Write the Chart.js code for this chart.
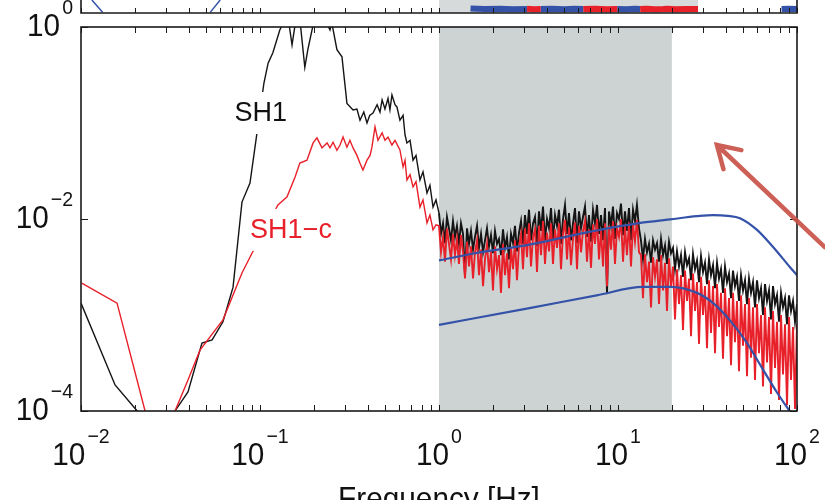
<!DOCTYPE html>
<html>
<head>
<meta charset="utf-8">
<script src="https://cdn.jsdelivr.net/npm/chart.js@4.4.0/dist/chart.umd.min.js"></script>
<style>
    html, body { margin: 0; padding: 0; background: #fff; }
    #wrap { position: relative; width: 825px; height: 500px; overflow: hidden; }
    #grafico { position: absolute; left: 0; top: 0; }
    #faixaTopo { position: absolute; left: 0; top: 0; }
</style>
</head>
<body>
<div id="wrap">
    <canvas id="grafico" width="825" height="500"></canvas>
    <canvas id="faixaTopo" width="825" height="14"></canvas>
</div>
<script>
// ---- data ----
// SH1 (black), low frequency part
const sh1LowFreq = [0.01, 0.0155, 0.0206, 0.027, 0.0335, 0.0396, 0.0474, 0.054, 0.0621, 0.0707,
    0.0793, 0.0879, 0.0962, 0.1052, 0.111, 0.118, 0.129, 0.138, 0.145, 0.151,
    0.157, 0.167, 0.178, 0.185, 0.198, 0.211, 0.231, 0.246, 0.252, 0.269,
    0.287, 0.299, 0.306, 0.331, 0.348, 0.362, 0.38, 0.396, 0.41, 0.428,
    0.451, 0.468, 0.481, 0.499, 0.519, 0.532, 0.546, 0.568, 0.582, 0.605,
    0.63, 0.646, 0.662, 0.689, 0.716, 0.744, 0.783, 0.814, 0.857, 0.89,
    0.926, 0.962];
const sh1LowPsd = [1.33e-3, 1.87e-4, 1.0e-4, 5e-5, 1.0e-4, 1.58e-4, 5.1e-4, 5.5e-4, 8.5e-4, 1.95e-3,
    1.5e-2, 2.37e-2, 7.9e-2, 0.261, 0.42, 0.54, 0.93, 1.2, 1.1, 0.65,
    1.05, 1.2, 0.38, 0.58, 1.05, 1.3, 1.2, 0.93, 1.1, 0.58,
    0.49, 0.24, 0.16, 0.137, 0.14, 0.107, 0.13, 0.1, 0.12, 0.127,
    0.155, 0.13, 0.174, 0.14, 0.18, 0.137, 0.196, 0.155, 0.147, 0.107,
    0.12, 0.075, 0.062, 0.066, 0.041, 0.046, 0.0255, 0.031, 0.0187, 0.0225,
    0.0133, 0.0158];

// SH1-c (red), low frequency part
const sh1cLowFreq = [0.0101, 0.0159, 0.0228, 0.028, 0.0335, 0.0396, 0.0462, 0.0621, 0.0793, 0.0902,
    0.126, 0.1416, 0.157, 0.167, 0.183, 0.198, 0.208, 0.222, 0.237, 0.246,
    0.256, 0.269, 0.28, 0.291, 0.306, 0.318, 0.331, 0.348, 0.362, 0.376,
    0.396, 0.412, 0.422, 0.439, 0.456, 0.481, 0.499, 0.519, 0.546, 0.568,
    0.605, 0.63, 0.646, 0.662, 0.689, 0.716, 0.744, 0.783, 0.814, 0.857,
    0.89, 0.926, 0.962];
const sh1cLowPsd = [2.15e-3, 1.33e-3, 1.0e-4, 5e-5, 1.0e-4, 2.1e-4, 4.3e-4, 8.9e-4, 2.74e-3, 4.4e-3,
    1.4e-2, 1.7e-2, 2.74e-2, 3.83e-2, 4.1e-2, 6.2e-2, 7.0e-2, 5.5e-2, 6.2e-2, 5.5e-2,
    6.3e-2, 5.2e-2, 5.9e-2, 7.15e-2, 5.6e-2, 6.6e-2, 5.5e-2, 4.6e-2, 3.8e-2, 3.24e-2,
    4.1e-2, 4.6e-2, 5.6e-2, 9.1e-2, 6.6e-2, 7.9e-2, 6.6e-2, 7.1e-2, 5.9e-2, 6.6e-2,
    5.24e-2, 3.48e-2, 4.1e-2, 2.55e-2, 2.9e-2, 2.16e-2, 2.45e-2, 1.33e-2, 1.58e-2, 9.1e-3,
    1.1e-2, 7.7e-3, 8.7e-3];

// dense part 1 - 100 Hz (same frequencies for both traces)
const denseFreq = [1.000, 1.026, 1.053, 1.080, 1.108, 1.137, 1.167, 1.197, 1.228, 1.260,
    1.293, 1.327, 1.362, 1.397, 1.434, 1.471, 1.509, 1.549, 1.589, 1.631,
    1.673, 1.717, 1.762, 1.807, 1.854, 1.903, 1.952, 2.003, 2.055, 2.109,
    2.164, 2.220, 2.278, 2.337, 2.398, 2.461, 2.525, 2.591, 2.658, 2.727,
    2.799, 2.872, 2.946, 3.023, 3.102, 3.183, 3.266, 3.351, 3.438, 3.528,
    3.620, 3.714, 3.811, 3.910, 4.012, 4.117, 4.224, 4.334, 4.447, 4.563,
    4.681, 4.803, 4.929, 5.057, 5.189, 5.324, 5.463, 5.605, 5.751, 5.902,
    6.055, 6.213, 6.375, 6.541, 6.711, 6.886, 7.066, 7.250, 7.439, 7.633,
    7.832, 8.036, 8.245, 8.460, 8.681, 8.907, 9.139, 9.377, 9.622, 9.872,
    10.13, 10.39, 10.67, 10.94, 11.22, 11.52, 11.82, 12.13, 12.44, 12.76,
    13.10, 13.44, 13.79, 14.15, 14.52, 14.90, 15.29, 15.69, 16.10, 16.52,
    16.95, 17.39, 17.85, 18.31, 18.78, 19.27, 19.77, 20.29, 20.82, 21.36,
    21.92, 22.49, 23.08, 23.68, 24.29, 24.93, 25.58, 26.24, 26.93, 27.63,
    28.35, 29.09, 29.85, 30.62, 31.42, 32.24, 33.08, 33.95, 34.83, 35.74,
    36.67, 37.62, 38.60, 39.61, 40.64, 41.70, 42.79, 43.90, 45.04, 46.22,
    47.42, 48.66, 49.93, 51.23, 52.56, 53.93, 55.34, 56.78, 58.26, 59.78,
    61.34, 62.94, 64.58, 66.26, 67.99, 69.76, 71.58, 73.44, 75.36, 77.32,
    79.34, 81.41, 83.53, 85.71, 87.94, 90.23, 92.58, 94.99, 97.47, 100.0];
const sh1DensePsd = [
    // 1 - 1.36 Hz
    1.15e-2, 7.0e-3, 9.0e-3, 5.6e-3, 1.05e-2, 8.0e-3, 6.0e-3, 9.5e-3, 6.5e-3, 8.5e-3, 5.5e-3, 9.0e-3, 7.0e-3,
    // 1.4 - 2.8 Hz
    2.6e-3, 8.0e-3, 5.5e-3, 7.5e-3, 4.8e-3, 6.5e-3, 8.5e-3, 5.0e-3, 7.0e-3, 4.5e-3,
    6.0e-3, 8.0e-3, 5.2e-3, 6.8e-3, 4.4e-3, 7.5e-3, 5.5e-3, 6.2e-3, 4.2e-3, 7.8e-3,
    5.0e-3, 6.5e-3, 3.8e-3, 7.0e-3, 5.6e-3, 8.5e-3, 4.6e-3, 7.2e-3,
    // 2.9 - 4.1 Hz
    9.5e-3, 5.5e-3, 1.1e-2, 7.0e-3, 1.25e-2, 6.0e-3, 9.0e-3, 1.05e-2, 5.2e-3, 1.2e-2, 7.5e-3, 1.35e-2, 6.0e-3, 1.0e-2, 8.0e-3,
    // 4.2 - 13 Hz
    1.3e-2, 6.0e-3, 1.1e-2, 8.5e-3, 1.25e-2, 5.5e-3, 1.0e-2, 1.4e-2, 7.0e-3, 1.15e-2,
    6.0e-3, 9.0e-3, 1.3e-2, 5.6e-3, 1.2e-2, 8.0e-3, 1.05e-2, 1.35e-2, 6.5e-3, 1.1e-2,
    5.8e-3, 1.25e-2, 9.0e-3, 1.4e-2, 7.0e-3, 1.1e-2, 6.0e-3, 1.3e-2, 1.7e-3, 1.2e-2,
    8.5e-3, 1.35e-2, 6.2e-3, 1.15e-2, 1.0e-2, 1.45e-2, 6.8e-3, 1.2e-2, 7.5e-3, 1.3e-2,
    6.0e-3, 1.25e-2, 9.5e-3, 1.4e-2, 8.0e-3,
    // 13.4 - 20 Hz
    6.0e-3, 3.8e-3, 6.2e-3, 4.5e-3, 5.5e-3, 3.5e-3, 6.0e-3, 4.8e-3, 5.6e-3, 3.6e-3, 6.2e-3, 4.2e-3, 5.3e-3, 3.4e-3, 5.8e-3, 4.4e-3, 5.0e-3,
    // 20 - 32 Hz
    3.0e-3, 4.6e-3, 3.2e-3, 4.2e-3, 2.5e-3, 4.5e-3, 3.3e-3, 3.9e-3, 2.3e-3, 4.3e-3, 3.0e-3, 3.7e-3, 2.2e-3, 4.1e-3, 2.8e-3, 3.5e-3, 2.1e-3, 3.8e-3,
    // 33 - 54 Hz
    2.6e-3, 3.3e-3, 1.9e-3, 3.5e-3, 2.4e-3, 3.0e-3, 1.7e-3, 3.2e-3, 2.2e-3, 2.7e-3,
    1.5e-3, 2.9e-3, 2.0e-3, 2.5e-3, 1.4e-3, 2.6e-3, 1.8e-3, 2.3e-3, 1.3e-3, 2.4e-3,
    // 55 - 100 Hz
    1.7e-3, 2.2e-3, 1.2e-3, 2.3e-3, 1.5e-3, 1.9e-3, 1.0e-3, 2.1e-3, 1.4e-3, 1.8e-3, 9.0e-4, 2.0e-3,
    1.3e-3, 1.6e-3, 8.5e-4, 1.7e-3, 1.2e-3, 1.5e-3, 8.0e-4, 1.6e-3, 1.1e-3, 1.4e-3, 8.5e-4, 1.3e-3];
const sh1cDensePsd = [
    // 1 - 1.36 Hz
    8.5e-3, 4.5e-3, 6.5e-3, 3.6e-3, 8.0e-3, 5.5e-3, 3.8e-3, 7.0e-3, 4.2e-3, 6.2e-3, 3.4e-3, 6.8e-3, 4.5e-3,
    // 1.4 - 2.8 Hz
    2.4e-3, 5.8e-3, 3.2e-3, 5.2e-3, 2.4e-3, 4.5e-3, 6.0e-3, 2.6e-3, 4.8e-3, 2.0e-3,
    3.8e-3, 5.5e-3, 2.8e-3, 4.6e-3, 1.8e-3, 5.2e-3, 3.0e-3, 4.2e-3, 1.7e-3, 5.5e-3,
    2.6e-3, 4.4e-3, 1.9e-3, 5.0e-3, 3.0e-3, 6.0e-3, 2.3e-3, 5.2e-3,
    // 2.9 - 4.1 Hz
    7.0e-3, 3.0e-3, 8.0e-3, 4.0e-3, 9.0e-3, 3.2e-3, 6.5e-3, 7.8e-3, 2.8e-3, 8.5e-3, 4.2e-3, 9.5e-3, 3.4e-3, 7.2e-3, 4.6e-3,
    // 4.2 - 13 Hz
    9.0e-3, 3.4e-3, 7.8e-3, 5.0e-3, 9.0e-3, 3.0e-3, 7.0e-3, 9.8e-3, 3.8e-3, 8.2e-3,
    3.3e-3, 6.2e-3, 9.2e-3, 3.0e-3, 8.5e-3, 4.5e-3, 7.5e-3, 9.5e-3, 3.6e-3, 7.8e-3,
    3.1e-3, 8.8e-3, 5.5e-3, 1.0e-2, 3.8e-3, 7.8e-3, 3.2e-3, 9.0e-3, 2.0e-3, 8.5e-3,
    4.8e-3, 9.5e-3, 3.4e-3, 8.0e-3, 6.5e-3, 1.0e-2, 3.6e-3, 8.5e-3, 4.2e-3, 9.2e-3,
    3.2e-3, 8.8e-3, 5.8e-3, 9.8e-3, 4.5e-3,
    // 13.4 - 20 Hz
    4.2e-3, 1.5e-3, 4.3e-3, 2.2e-3, 3.6e-3, 1.2e-3, 4.0e-3, 2.5e-3, 3.8e-3, 1.3e-3, 4.2e-3, 1.8e-3, 3.5e-3, 1.1e-3, 3.9e-3, 2.0e-3, 3.2e-3,
    // 20 - 32 Hz
    9.0e-4, 3.0e-3, 1.3e-3, 2.6e-3, 7.0e-4, 2.9e-3, 1.4e-3, 2.4e-3, 6.0e-4, 2.7e-3, 1.1e-3, 2.2e-3, 5.0e-4, 2.5e-3, 1.0e-3, 2.0e-3, 4.5e-4, 2.3e-3,
    // 33 - 54 Hz
    6.5e-4, 2.0e-3, 4.0e-4, 2.1e-3, 7.5e-4, 1.7e-3, 3.5e-4, 1.9e-3, 6.0e-4, 1.5e-3,
    3.0e-4, 1.7e-3, 5.2e-4, 1.4e-3, 2.6e-4, 1.6e-3, 4.8e-4, 1.3e-3, 2.3e-4, 1.5e-3,
    // 55 - 100 Hz
    3.6e-4, 1.2e-3, 2.1e-4, 1.3e-3, 4.0e-4, 1.0e-3, 1.8e-4, 1.2e-3, 3.2e-4, 9.5e-4, 1.5e-4, 1.1e-3,
    2.8e-4, 8.5e-4, 1.3e-4, 1.0e-3, 2.4e-4, 8.0e-4, 1.15e-4, 9.5e-4, 2.1e-4, 7.5e-4, 1.05e-4, 8.0e-4];

// blue model curves
const blueUpperFreq = [1.0, 1.59, 3.2, 6.1, 13.3, 19.5, 27.6, 34, 41, 48, 59.8, 73.5, 91.4, 100];
const blueUpperPsd = [3.7e-3, 4.4e-3, 5.4e-3, 7.0e-3, 9.1e-3, 9.9e-3, 1.07e-2, 1.1e-2, 1.08e-2, 1.02e-2, 7.7e-3, 5.1e-3, 3.15e-3, 2.6e-3];
const blueLowerFreq = [1.0, 3.2, 7.6, 13.8, 19.5, 27.6, 34, 42, 52.6, 64.6, 77.5, 91, 100];
const blueLowerPsd = [7.9e-4, 1.18e-3, 1.6e-3, 1.96e-3, 1.96e-3, 1.7e-3, 1.33e-3, 8.9e-4, 5.1e-4, 2.7e-4, 1.55e-4, 1.0e-4, 8.0e-5];

// shaded band [Hz]
const faixaCinza = [1, 20];

// axes
const xMajorExp = [-2, -1, 0, 1, 2];
const yMajorExp = [-4, -2, 0];
const xTitulo = 'Frequency [Hz]';

// series labels (text, freq, psd)
const rotulos = [
    { texto: 'SH1', f: 0.101, v: 0.127, cor: '#111111' },
    { texto: 'SH1\u2212c', f: 0.149, v: 7.7e-3, cor: '#e8202a' }
];

// arrow: tip and tail in data units
const seta = { ponta: [35.7, 0.059], cauda: [143, 5.1e-3] };

// top strip (bottom of the panel above)
const topBlueFreq = [1.5, 1.8, 2.2, 2.6, 3.1, 3.4, 3.7, 4.3, 5.0, 5.7, 6.4, 8.0, 9.9, 11.2, 12.4, 13.3, 50, 82, 90, 100];
const topBlueVal = [0.35, 0.3, 0.32, 0.28, 0.3, null, 0.3, 0.33, 0.28, 0.32, 0.3, null, 0.3, 0.28, 0.33, 0.3, null, 0.3, 0.32, 0.3];
const topRedFreq = [3.1, 3.4, 3.7, 5.0, 6.4, 7.5, 8.6, 9.9, 11.0, 13.3, 14.5, 16.0, 17.9, 19.0, 21.0, 24.0, 28.0];
const topRedVal = [0.32, 0.28, 0.3, null, 0.3, 0.32, 0.28, 0.3, null, 0.3, 0.32, 0.28, 0.3, 0.33, 0.28, 0.3, 0.31];
const topLeftFreq = [0.0115, 0.0132, 0.03, 0.0527, 0.0599];
const topLeftVal = [1.0, 0.05, null, 0.05, 1.0];

const fonte = '"Liberation Sans", Arial, sans-serif';
const corAzul = '#3452a8';
const corVermelho = '#e8202a';
const corPreto = '#141414';
const corCinza = '#cdd3d3';

function pares(freqs, vals) {
    return freqs.map((f, i) => ({ x: f, y: vals[i] }));
}

// thicker strokes where the spectrum is dense (above 1 Hz)
function larguraTrecho(ctx) {
    return ctx.p0.parsed.x >= 1 ? 1.9 : 1.4;
}

// "10" with a superscript exponent
function escrevePotencia(ctx, expoente, x, yBase, alinhamento) {
    const escala = 0.93;
    const txtExp = expoente < 0 ? '\u2212' + Math.abs(expoente) : String(expoente);
    ctx.font = '32px ' + fonte;
    const w10 = ctx.measureText('10').width * escala;
    ctx.font = '21px ' + fonte;
    const wExp = ctx.measureText(txtExp).width * escala;
    const total = w10 + 2 + wExp;
    const esq = alinhamento === 'center' ? x - total / 2 : x - total;

    ctx.save();
    ctx.translate(esq, yBase);
    ctx.scale(escala, 1);
    ctx.font = '32px ' + fonte;
    ctx.fillText('10', 0, 0);
    ctx.restore();

    ctx.save();
    ctx.translate(esq + w10 + 2, yBase - 22);
    ctx.scale(escala, 1);
    ctx.font = '21px ' + fonte;
    ctx.fillText(txtExp, 0, 0);
    ctx.restore();
}

function xTicksTodos() {
    const lista = [];
    for (let d = -2; d <= 1; d++) {
        for (let m = 1; m <= 9; m++) lista.push(m * Math.pow(10, d));
    }
    lista.push(100);
    return lista;
}

const quadroPlugin = {
    id: 'quadro',
    beforeDatasetsDraw(chart) {
        const { ctx, chartArea: a, scales: { x } } = chart;
        const x1 = x.getPixelForValue(faixaCinza[0]);
        const x2 = x.getPixelForValue(faixaCinza[1]);
        ctx.save();
        ctx.fillStyle = corCinza;
        ctx.fillRect(x1, a.top, x2 - x1, a.bottom - a.top);
        ctx.restore();
    },
    afterDatasetsDraw(chart) {
        const { ctx, scales: { x, y } } = chart;
        ctx.save();
        ctx.font = '27px ' + fonte;
        ctx.textAlign = 'center';
        ctx.textBaseline = 'middle';
        rotulos.forEach(r => {
            const px = x.getPixelForValue(r.f);
            const py = y.getPixelForValue(r.v);
            const w = ctx.measureText(r.texto).width;
            ctx.fillStyle = '#fff';
            ctx.fillRect(px - w / 2 - 4, py - 21, w + 8, 42);
            ctx.fillStyle = r.cor;
            ctx.fillText(r.texto, px, py + 1);
        });
        ctx.restore();
    },
    afterDraw(chart) {
        const { ctx, chartArea: a, scales: { x, y } } = chart;
        ctx.save();

        // ticks pointing inwards
        ctx.strokeStyle = '#1a1a1a';
        ctx.lineWidth = 1;
        xTicksTodos().forEach(v => {
            const px = Math.round(x.getPixelForValue(v)) + 0.5;
            ctx.beginPath();
            ctx.moveTo(px, a.bottom); ctx.lineTo(px, a.bottom - 6);
            ctx.moveTo(px, a.top); ctx.lineTo(px, a.top + 6);
            ctx.stroke();
        });
        yMajorExp.forEach(e => {
            const py = Math.round(y.getPixelForValue(Math.pow(10, e))) + 0.5;
            ctx.beginPath();
            ctx.moveTo(a.left, py); ctx.lineTo(a.left + 7, py);
            ctx.moveTo(a.right, py); ctx.lineTo(a.right - 7, py);
            ctx.stroke();
        });

        // box
        ctx.lineWidth = 1.6;
        ctx.strokeStyle = '#1a1a1a';
        ctx.strokeRect(a.left, a.top, a.right - a.left, a.bottom - a.top);

        // tick labels
        ctx.fillStyle = '#111';
        ctx.textAlign = 'left';
        ctx.textBaseline = 'alphabetic';
        xMajorExp.forEach(e => {
            escrevePotencia(ctx, e, x.getPixelForValue(Math.pow(10, e)), 465, 'center');
        });
        yMajorExp.forEach(e => {
            escrevePotencia(ctx, e, a.left - 8, y.getPixelForValue(Math.pow(10, e)) + 9, 'right');
        });

        // x title (cut by the bottom edge)
        ctx.save();
        ctx.translate((a.left + a.right) / 2, 509);
        ctx.scale(0.93, 1);
        ctx.font = '32px ' + fonte;
        ctx.textAlign = 'center';
        ctx.fillText(xTitulo, 0, 0);
        ctx.restore();

        // red arrow
        const tx = x.getPixelForValue(seta.ponta[0]);
        const ty = y.getPixelForValue(seta.ponta[1]);
        const cx = x.getPixelForValue(seta.cauda[0]);
        const cy = y.getPixelForValue(seta.cauda[1]);
        const ang = Math.atan2(cy - ty, cx - tx);
        ctx.strokeStyle = 'rgba(200, 82, 72, 0.92)';
        ctx.lineWidth = 4.5;
        ctx.lineCap = 'round';
        ctx.beginPath();
        ctx.moveTo(cx, cy); ctx.lineTo(tx, ty);
        ctx.moveTo(tx + 25 * Math.cos(ang - 0.55), ty + 25 * Math.sin(ang - 0.55));
        ctx.lineTo(tx, ty);
        ctx.lineTo(tx + 25 * Math.cos(ang + 0.55), ty + 25 * Math.sin(ang + 0.55));
        ctx.stroke();

        ctx.restore();
    }
};

const ctxPrincipal = document.getElementById('grafico').getContext('2d');
new Chart(ctxPrincipal, {
    type: 'line',
    data: {
        datasets: [
            { label: 'modelo sup', data: pares(blueUpperFreq, blueUpperPsd), borderColor: corAzul, borderWidth: 2.2, cubicInterpolationMode: 'monotone', order: 0 },
            { label: 'modelo inf', data: pares(blueLowerFreq, blueLowerPsd), borderColor: corAzul, borderWidth: 2.2, cubicInterpolationMode: 'monotone', order: 0 },
            { label: 'SH1-c', data: pares(sh1cLowFreq, sh1cLowPsd).concat(pares(denseFreq, sh1cDensePsd)), borderColor: corVermelho, borderWidth: 1.4, segment: { borderWidth: larguraTrecho }, order: 1 },
            { label: 'SH1', data: pares(sh1LowFreq, sh1LowPsd).concat(pares(denseFreq, sh1DensePsd)), borderColor: corPreto, borderWidth: 1.4, segment: { borderWidth: larguraTrecho }, order: 2 }
        ]
    },
    options: {
        responsive: false,
        animation: false,
        layout: { padding: { left: 81, right: 28, top: 27, bottom: 89 } },
        elements: { point: { radius: 0 }, line: { tension: 0, fill: false } },
        plugins: { legend: { display: false }, tooltip: { enabled: false } },
        scales: {
            x: { type: 'logarithmic', min: 0.01, max: 100, display: false },
            y: { type: 'logarithmic', min: 1e-4, max: 1, display: false }
        }
    },
    plugins: [quadroPlugin]
});

// ---- top strip ----
const topoPlugin = {
    id: 'topo',
    beforeDatasetsDraw(chart) {
        const { ctx, chartArea: a, scales: { x } } = chart;
        const x1 = x.getPixelForValue(1);
        const x2 = x.getPixelForValue(28);
        ctx.save();
        ctx.fillStyle = '#d6dada';
        ctx.fillRect(x1, a.top, x2 - x1, a.bottom - a.top);
        ctx.restore();
    },
    afterDraw(chart) {
        const { ctx, chartArea: a, scales: { x } } = chart;
        ctx.save();
        ctx.strokeStyle = '#1a1a1a';
        ctx.lineWidth = 1;
        xTicksTodos().forEach(v => {
            const px = Math.round(x.getPixelForValue(v)) + 0.5;
            ctx.beginPath();
            ctx.moveTo(px, a.bottom); ctx.lineTo(px, a.bottom - 5);
            ctx.stroke();
        });
        ctx.lineWidth = 1.6;
        ctx.beginPath();
        ctx.moveTo(a.left, 0); ctx.lineTo(a.left, a.bottom);
        ctx.lineTo(a.right, a.bottom); ctx.lineTo(a.right, 0);
        ctx.stroke();
        ctx.restore();
    }
};

new Chart(document.getElementById('faixaTopo').getContext('2d'), {
    type: 'line',
    data: {
        datasets: [
            { data: pares(topLeftFreq, topLeftVal), borderColor: corAzul, borderWidth: 1.5 },
            { data: pares(topRedFreq, topRedVal), borderColor: corVermelho, borderWidth: 6, borderCapStyle: 'butt' },
            { data: pares(topBlueFreq, topBlueVal), borderColor: corAzul, borderWidth: 6, borderCapStyle: 'butt' }
        ]
    },
    options: {
        responsive: false,
        animation: false,
        layout: { padding: { left: 81, right: 28, top: 0, bottom: 1 } },
        elements: { point: { radius: 0 }, line: { tension: 0 } },
        plugins: { legend: { display: false }, tooltip: { enabled: false } },
        scales: {
            x: { type: 'logarithmic', min: 0.01, max: 100, display: false },
            y: { type: 'linear', min: 0, max: 1, display: false }
        }
    },
    plugins: [topoPlugin]
});
</script>
</body>
</html>
